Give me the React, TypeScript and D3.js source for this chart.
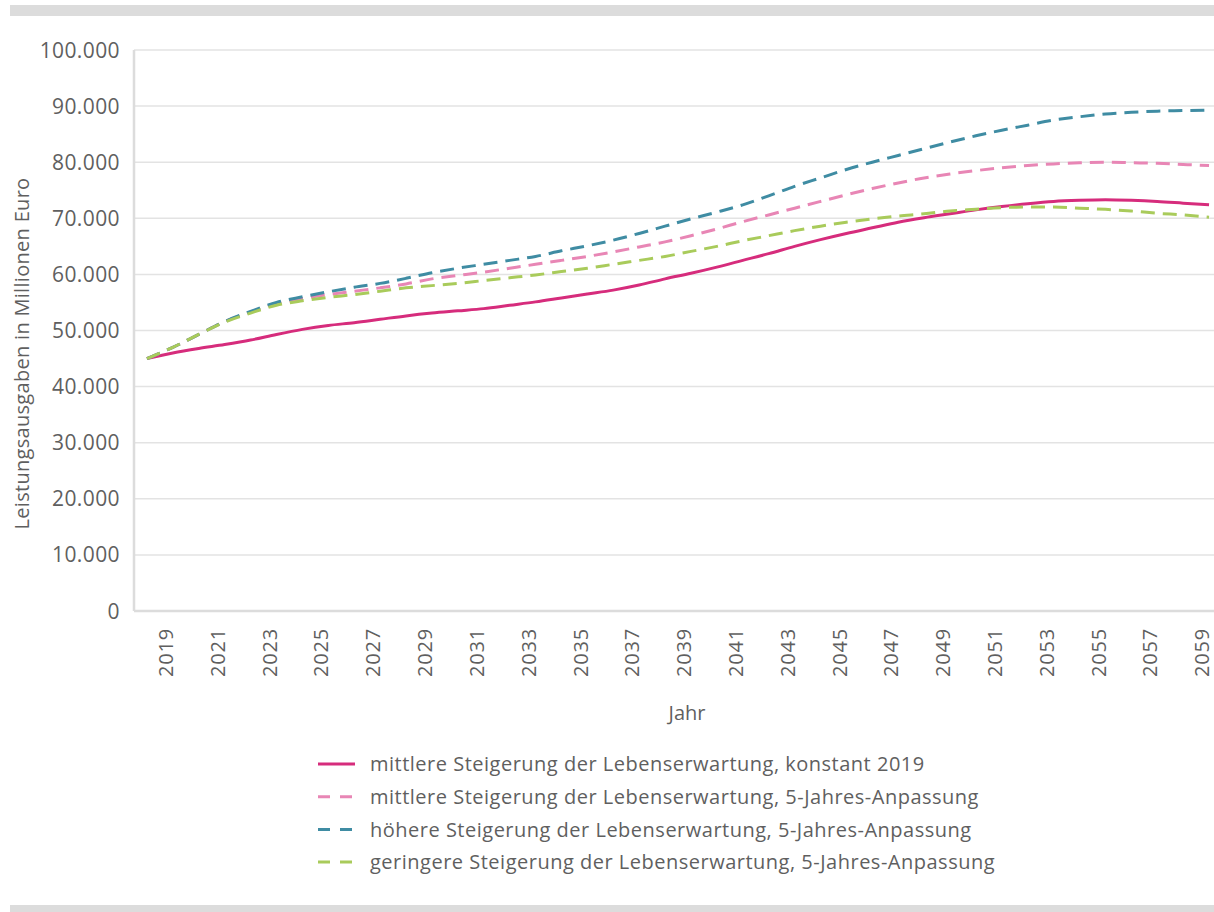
import { useMemo } from "react";
import * as d3 from "d3";

const WIDTH = 1214;
const HEIGHT = 912;
const MARGIN = { top: 50, right: -8, bottom: 301, left: 134 };

const years = d3.range(2018, 2060);

// Leistungsausgaben in Mio. Euro
const konstant2019 = [
  45000, 46000, 46800, 47500, 48300, 49300, 50200, 50900, 51400, 52000,
  52600, 53100, 53500, 53900, 54500, 55100, 55800, 56500, 57200, 58100,
  59200, 60200, 61300, 62500, 63700, 65000, 66200, 67300, 68300, 69300,
  70100, 70800, 71500, 72100, 72600, 73000, 73200, 73300, 73200, 73000,
  72700, 72400,
];
const mittlere5J = [
  45000, 47000, 49300, 51600, 53300, 54800, 55700, 56400, 57000, 57600,
  58300, 59200, 59800, 60400, 61100, 61800, 62500, 63200, 64000, 64900,
  65800, 66900, 68100, 69400, 70600, 71800, 73000, 74200, 75300, 76300,
  77200, 77900, 78500, 79000, 79400, 79700, 79900, 80000, 79900, 79800,
  79600, 79400,
];
const hoehere5J = [
  45000, 47000, 49300, 51600, 53400, 55000, 56000, 56900, 57700, 58400,
  59300, 60300, 61100, 61800, 62500, 63200, 64200, 65100, 66100, 67300,
  68600, 69900, 71100, 72400, 74000, 75700, 77200, 78700, 80000, 81200,
  82400, 83600, 84700, 85700, 86600, 87500, 88100, 88600, 88900, 89100,
  89200, 89300,
];
const geringere5J = [
  45000, 47000, 49300, 51500, 53100, 54500, 55300, 55900, 56400, 57000,
  57600, 58000, 58400, 58900, 59400, 59900, 60500, 61100, 61800, 62500,
  63200, 64100, 65000, 66000, 66900, 67800, 68600, 69300, 69900, 70400,
  70800, 71300, 71600, 71900, 72000, 72000, 71800, 71600, 71300, 70900,
  70600, 70200,
];

const yTicks = d3.range(0, 100001, 10000);
const xTickYears = years.filter((y) => y % 2 === 1);

const series = [
  { name: "mittlere Steigerung der Lebenserwartung, konstant 2019", values: konstant2019, color: "#d62c7c", dash: null },
  { name: "mittlere Steigerung der Lebenserwartung, 5-Jahres-Anpassung", values: mittlere5J, color: "#e886b5", dash: "14,8" },
  { name: "höhere Steigerung der Lebenserwartung, 5-Jahres-Anpassung", values: hoehere5J, color: "#3f8ca3", dash: "14,8" },
  { name: "geringere Steigerung der Lebenserwartung, 5-Jahres-Anpassung", values: geringere5J, color: "#a9cb5b", dash: "14,8" },
];

const de = d3.formatLocale({ decimal: ",", thousands: ".", grouping: [3], currency: ["", " €"] });
const fmt = de.format(",");

const FONT = "'Open Sans', sans-serif";
const TEXT = "#5f5f5f";
const GRID = "#e3e3e3";
const FRAME = "#dcdcdc";

export default function App() {
  const innerBottom = HEIGHT - MARGIN.bottom;
  const x = useMemo(
    () => d3.scalePoint<number>().domain(years).range([MARGIN.left, WIDTH - MARGIN.right]).padding(0.5),
    []
  );
  const y = useMemo(() => d3.scaleLinear().domain([0, 100000]).range([innerBottom, MARGIN.top]), [innerBottom]);

  const line = d3
    .line<number>()
    .x((_, i) => x(years[i]) ?? 0)
    .y((v) => y(v))
    .curve(d3.curveMonotoneX);

  return (
    <svg
      width={WIDTH}
      height={HEIGHT}
      style={{ position: "absolute", left: 0, top: 0, background: "#fff" }}
      fontFamily={FONT}
    >
      {/* grey bars above and below */}
      <rect x={10} y={5} width={WIDTH - 10} height={11} fill={FRAME} />
      <rect x={10} y={905} width={WIDTH - 10} height={7} fill={FRAME} />

      {/* gridlines + y ticks */}
      {yTicks.map((t) => (
        <g key={t}>
          {t > 0 && <line x1={MARGIN.left} x2={WIDTH} y1={y(t)} y2={y(t)} stroke={GRID} strokeWidth={1.5} />}
          <text x={120} y={y(t)} dy="0.36em" textAnchor="end" fill={TEXT} fontSize={21} letterSpacing={0.4}>
            {fmt(t)}
          </text>
        </g>
      ))}

      {/* axes */}
      <line x1={MARGIN.left} x2={MARGIN.left} y1={MARGIN.top} y2={innerBottom} stroke={FRAME} strokeWidth={2.5} />
      <line x1={MARGIN.left} x2={WIDTH} y1={innerBottom} y2={innerBottom} stroke={FRAME} strokeWidth={2.5} />

      {/* x ticks */}
      {xTickYears.map((yr) => (
        <text
          key={yr}
          transform={`translate(${(x(yr) ?? 0) - 7},${innerBottom + 17}) rotate(-90)`}
          dy="0.36em"
          textAnchor="end"
          fill={TEXT}
          fontSize={20}
          letterSpacing={0.8}
        >
          {yr}
        </text>
      ))}

      <text x={687} y={713} dy="0.36em" textAnchor="middle" fill={TEXT} fontSize={20}>
        Jahr
      </text>
      <text
        transform={`translate(22,${(MARGIN.top + innerBottom) / 2 + 23}) rotate(-90)`}
        dy="0.36em"
        textAnchor="middle"
        fill={TEXT}
        fontSize={20}
        letterSpacing={0.3}
      >
        Leistungsausgaben in Millionen Euro
      </text>

      {/* series */}
      <defs>
        <clipPath id="plot">
          <rect x={MARGIN.left} y={0} width={WIDTH - MARGIN.left} height={innerBottom} />
        </clipPath>
      </defs>
      <g clipPath="url(#plot)">
        {series.map((s) => (
          <path
            key={s.name}
            d={line(s.values) ?? ""}
            fill="none"
            stroke={s.color}
            strokeWidth={3}
            strokeDasharray={s.dash ?? undefined}
          />
        ))}
      </g>

      {/* legend */}
      {series.map((s, i) => {
        const ly = 764 + i * 32.7;
        return (
          <g key={s.name} transform={`translate(318,${ly})`}>
            <line
              x1={0}
              x2={37}
              y1={0}
              y2={0}
              stroke={s.color}
              strokeWidth={3}
              strokeDasharray={s.dash ? "12,10" : undefined}
            />
            <text x={52} y={0} dy="0.36em" fill={TEXT} fontSize={20} letterSpacing={0.5}>
              {s.name}
            </text>
          </g>
        );
      })}
    </svg>
  );
}
